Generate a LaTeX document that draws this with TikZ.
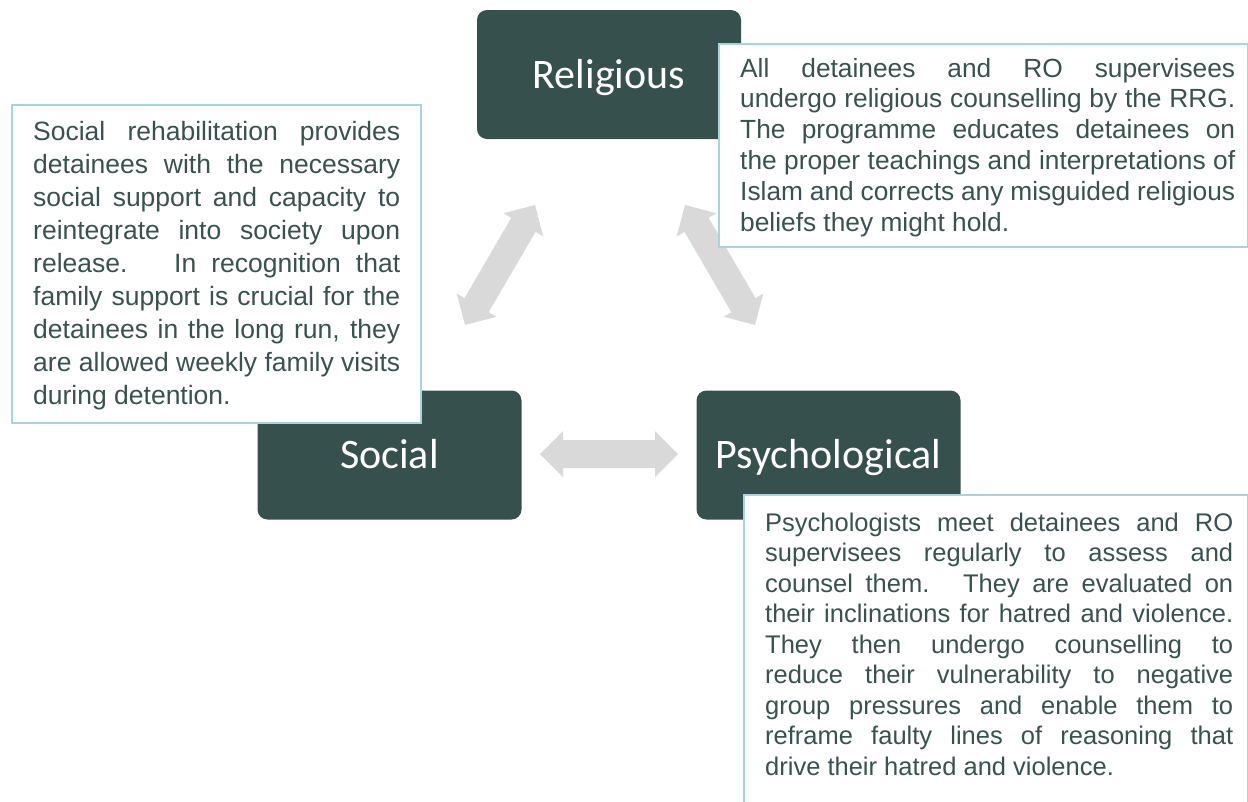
\documentclass[tikz,border=0pt]{standalone}
\usepackage{fontspec}
\setmainfont{Liberation Sans}
\newfontfamily\labelfont{Carlito}
\usetikzlibrary{calc}
\definecolor{boxfill}{HTML}{36504E}
\definecolor{txtcol}{HTML}{3A524F}
\definecolor{bordercol}{HTML}{A8D5D7}
\definecolor{arrowgray}{HTML}{D9D9D9}
\newcommand\dblarrow[3]{%
  \coordinate (#3h1) at ($(#1)!23pt!(#2)$);
  \coordinate (#3h2) at ($(#2)!23pt!(#1)$);
  \fill[arrowgray] (#1) -- ($(#3h1)!23pt!90:(#2)$) -- ($(#3h1)!14pt!90:(#2)$)
    -- ($(#3h2)!14pt!-90:(#1)$) -- ($(#3h2)!23pt!-90:(#1)$) -- (#2)
    -- ($(#3h2)!23pt!90:(#1)$) -- ($(#3h2)!14pt!90:(#1)$)
    -- ($(#3h1)!14pt!-90:(#2)$) -- ($(#3h1)!23pt!-90:(#2)$) -- cycle;}
\newcommand\jl[2]{\makebox[#1][s]{#2}}
\begin{document}
\begin{tikzpicture}[x=1pt,y=-1pt,
  catbox/.style={rounded corners=10pt, fill=boxfill, minimum width=264pt,
    minimum height=129pt, inner sep=0pt, text=white, text height=27pt, text depth=0pt,
    font=\labelfont\fontsize{42pt}{48pt}\selectfont},
  tbox/.style={draw=bordercol, line width=1.5pt, fill=white, inner sep=0pt, anchor=north west},
  btext/.style={anchor=base west, inner sep=0pt, text=txtcol}]
\useasboundingbox (0,0) rectangle (1248,801);
\clip (0,0) rectangle (1248,801);
% arrows
\coordinate (la1) at (465,325); \coordinate (la2) at (535,205);
\coordinate (ra1) at (685,205); \coordinate (ra2) at (755,325);
\coordinate (ha1) at (540,454); \coordinate (ha2) at (678,454);
\dblarrow{la1}{la2}{l}
\dblarrow{ra1}{ra2}{r}
\dblarrow{ha1}{ha2}{h}
% category boxes
\node[catbox] (rel) at (609,74.5) {Religious};
\node[catbox] (soc) at (389.5,455) {Social};
\node[catbox] (psy) at (828.5,455) {Psychological};
% text boxes
\node[tbox, minimum width=529pt, minimum height=203pt] (relbox) at (718,43) {};
\node[tbox, minimum width=409pt, minimum height=318pt] (socbox) at (11,104) {};
\node[tbox, minimum width=504pt, minimum height=340pt] (psybox) at (743,494) {};
% texts
\node[btext] (reltxt) at (740,77) {\begin{minipage}[t]{495pt}\fontsize{26.3pt}{30.8pt}\selectfont
\jl{\linewidth}{All detainees and RO supervisees}\\
\jl{\linewidth}{undergo religious counselling by the RRG.}\\
\jl{\linewidth}{The programme educates detainees on}\\
\jl{\linewidth}{the proper teachings and interpretations of}\\
\jl{\linewidth}{Islam and corrects any misguided religious}\\
beliefs they might hold.\end{minipage}};
\node[btext] (soctxt) at (33,140) {\begin{minipage}[t]{367pt}\fontsize{26.5pt}{33.1pt}\selectfont
\jl{\linewidth}{Social rehabilitation provides}\\
\jl{\linewidth}{detainees with the necessary}\\
\jl{\linewidth}{social support and capacity to}\\
\jl{\linewidth}{reintegrate into society upon}\\
\jl{\linewidth}{release.\hspace{14pt} In recognition that}\\
\jl{\linewidth}{family support is crucial for the}\\
\jl{\linewidth}{detainees in the long run, they}\\
\jl{\linewidth}{are allowed weekly family visits}\\
during detention.\end{minipage}};
\node[btext] (psytxt) at (765,531) {\begin{minipage}[t]{468pt}\fontsize{25.5pt}{30.5pt}\selectfont
\jl{\linewidth}{Psychologists meet detainees and RO}\\
\jl{\linewidth}{supervisees regularly to assess and}\\
\jl{\linewidth}{counsel them.\hspace{8pt} They are evaluated on}\\
\jl{\linewidth}{their inclinations for hatred and violence.}\\
\jl{\linewidth}{They then undergo counselling to}\\
\jl{\linewidth}{reduce their vulnerability to negative}\\
\jl{\linewidth}{group pressures and enable them to}\\
\jl{\linewidth}{reframe faulty lines of reasoning that}\\
drive their hatred and violence.\end{minipage}};
\end{tikzpicture}
\end{document}
